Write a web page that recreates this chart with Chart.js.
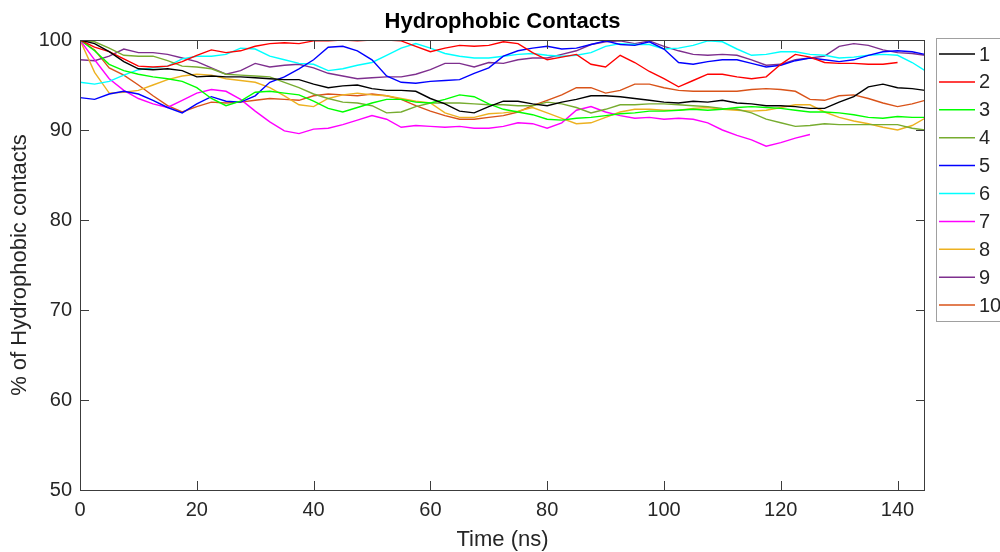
<!DOCTYPE html>
<html>
<head>
<meta charset="utf-8">
<title>Hydrophobic Contacts</title>
<script src="https://cdn.jsdelivr.net/npm/chart.js@4.4.1/dist/chart.umd.min.js"></script>
<style>
    html, body { margin: 0; padding: 0; background: #ffffff; }
    canvas { display: block; }
</style>
</head>
<body>
<canvas id="contactsChart" width="1000" height="552"></canvas>
<script>
// Время (нс) — общая ось для всех прогонов
const time = [0, 2.5, 5, 7.5, 10, 12.5, 15, 17.5, 20, 22.5, 25, 27.5, 30, 32.5, 35, 37.5, 40, 42.5, 45, 47.5,
    50, 52.5, 55, 57.5, 60, 62.5, 65, 67.5, 70, 72.5, 75, 77.5, 80, 82.5, 85, 87.5, 90, 92.5, 95, 97.5,
    100, 102.5, 105, 107.5, 110, 112.5, 115, 117.5, 120, 122.5, 125, 127.5, 130, 132.5, 135, 137.5, 140, 142.5, 144.7];

// % гидрофобных контактов по прогонам
const run1 = [100, 99.6, 98.7, 97.6, 96.8, 96.7, 96.8, 96.6, 95.9, 96.0, 95.9, 95.9, 95.8, 95.7, 95.6, 95.6, 95.1, 94.7, 94.9, 95.0,
    94.6, 94.4, 94.4, 94.3, 93.5, 92.9, 92.1, 91.9, 92.6, 93.2, 93.2, 92.9, 92.7, 93.1, 93.4, 93.8, 93.8, 93.7, 93.5, 93.3,
    93.1, 93.0, 93.2, 93.1, 93.3, 93.0, 92.9, 92.7, 92.7, 92.6, 92.4, 92.4, 93.1, 93.7, 94.8, 95.1, 94.7, 94.6, 94.4];
const run2 = [100, 99.2, 98.7, 97.9, 97.1, 97.0, 97.1, 97.6, 98.3, 98.9, 98.6, 98.8, 99.3, 99.6, 99.7, 99.6, 99.9, 99.9, 100, 99.9,
    100, 100, 99.9, 99.3, 98.7, 99.1, 99.4, 99.3, 99.4, 99.8, 99.6, 98.6, 97.8, 98.1, 98.4, 97.3, 97.0, 98.3, 97.5, 96.5,
    95.7, 94.8, 95.5, 96.2, 96.2, 95.9, 95.7, 95.9, 97.3, 98.4, 98.1, 97.5, 97.4, 97.4, 97.3, 97.3, 97.5, null, null];
const run3 = [100, 98.8, 97.3, 96.6, 96.2, 95.9, 95.7, 95.4, 94.7, 93.5, 92.7, 93.2, 94.2, 94.3, 94.1, 93.9, 93.2, 92.4, 92.0, 92.5,
    93.0, 93.4, 93.4, 93.1, 93.0, 93.4, 93.9, 93.7, 92.9, 92.3, 92.0, 91.7, 91.2, 91.1, 91.3, 91.4, 91.6, 91.8, 91.9, 92.1,
    92.1, 92.2, 92.3, 92.2, 92.3, 92.5, 92.6, 92.5, 92.4, 92.2, 92.0, 92.0, 91.9, 91.7, 91.4, 91.3, 91.5, 91.4, 91.4];
const run4 = [100, 99.8, 99.1, 98.3, 98.2, 98.2, 97.7, 97.1, 97.0, 96.8, 96.2, 96.1, 96.0, 95.9, 95.3, 94.7, 94.0, 93.5, 93.1, 93.0,
    92.7, 91.9, 92.0, 92.6, 93.0, 93.0, 93.0, 92.9, 92.8, 92.8, 92.7, 92.7, 93.1, 92.9, 92.5, 91.9, 92.3, 92.8, 92.8, 92.9,
    92.9, 92.8, 92.7, 92.6, 92.4, 92.3, 91.9, 91.2, 90.8, 90.4, 90.5, 90.7, 90.6, 90.6, 90.6, 90.6, 90.6, 90.2, 90.0];
const run5 = [93.6, 93.4, 94.0, 94.3, 94.0, 93.3, 92.5, 91.9, 92.9, 93.7, 93.2, 93.1, 93.8, 95.3, 95.9, 96.8, 97.8, 99.2, 99.3, 98.8,
    97.8, 96.0, 95.3, 95.2, 95.4, 95.5, 95.6, 96.3, 96.9, 98.2, 98.8, 99.1, 99.3, 99.0, 99.1, 99.5, 99.9, 99.5, 99.4, 99.8,
    99.0, 97.5, 97.3, 97.6, 97.8, 97.8, 97.4, 97.0, 97.2, 97.7, 98.0, 97.8, 97.6, 97.8, 98.3, 98.7, 98.8, 98.7, 98.4];
const run6 = [95.3, 95.1, 95.4, 96.1, 96.7, 96.9, 97.1, 97.9, 98.2, 98.2, 98.4, 99.1, 99.0, 98.2, 97.8, 97.4, 97.3, 96.6, 96.8, 97.2,
    97.5, 98.3, 99.1, 99.6, 99.1, 98.5, 98.2, 98.0, 98.0, 98.2, 98.4, 98.5, 98.3, 98.2, 98.3, 98.6, 99.3, 99.6, 99.5, 99.5,
    99.0, 99.1, 99.4, 99.9, 99.8, 99.0, 98.3, 98.4, 98.7, 98.7, 98.4, 98.3, 98.0, 98.1, 98.3, 98.4, 98.3, 97.5, 96.6];
const run7 = [100, 97.8, 95.7, 94.4, 93.5, 92.9, 92.5, 93.3, 94.1, 94.5, 94.3, 93.4, 92.1, 90.9, 89.9, 89.6, 90.1, 90.2, 90.6, 91.1,
    91.6, 91.2, 90.3, 90.5, 90.4, 90.3, 90.4, 90.2, 90.2, 90.4, 90.8, 90.7, 90.2, 90.8, 92.2, 92.6, 92.0, 91.6, 91.3, 91.4,
    91.2, 91.3, 91.2, 90.8, 90.0, 89.4, 88.9, 88.2, 88.6, 89.1, 89.5, null, null, null, null, null, null, null, null];
const run8 = [100, 96.4, 94.1, 94.2, 94.4, 95.0, 95.6, 96.0, 96.2, 96.1, 95.7, 95.5, 95.3, 94.7, 93.8, 92.8, 92.6, 93.5, 93.9, 94.1,
    93.9, 93.8, 93.5, 93.2, 93.0, 91.9, 91.4, 91.4, 91.8, 91.9, 92.1, 92.5, 91.9, 91.3, 90.7, 90.8, 91.4, 92.0, 92.3, 92.3,
    92.2, 92.2, 92.4, 92.5, 92.3, 92.2, 92.1, 92.2, 92.5, 92.8, 92.8, 92.0, 91.4, 91.0, 90.7, 90.3, 90.0, 90.5, 91.3];
const run9 = [97.8, 97.7, 98.2, 99.0, 98.6, 98.6, 98.4, 98.0, 97.6, 96.9, 96.2, 96.6, 97.4, 97.0, 97.2, 97.3, 96.9, 96.3, 96.0, 95.7,
    95.8, 95.9, 95.9, 96.2, 96.7, 97.4, 97.4, 97.0, 97.5, 97.4, 97.8, 98.0, 98.0, 98.4, 98.8, 99.5, 99.8, 99.9, 99.6, 99.9,
    99.3, 98.8, 98.4, 98.3, 98.4, 98.3, 97.8, 97.2, 97.3, 97.8, 98.0, 98.2, 99.3, 99.6, 99.4, 98.9, 98.6, 98.5, 98.3];
const run10 = [100, 98.9, 96.9, 96.1, 95.0, 93.8, 92.7, 92.0, 92.6, 93.1, 93.0, 93.1, 93.3, 93.5, 93.4, 93.3, 93.8, 94.0, 93.9, 93.8,
    94.0, 93.8, 93.4, 92.7, 92.1, 91.6, 91.2, 91.2, 91.4, 91.6, 92.0, 92.7, 93.3, 93.9, 94.7, 94.7, 94.1, 94.4, 95.1, 95.1,
    94.7, 94.4, 94.3, 94.3, 94.3, 94.3, 94.5, 94.6, 94.5, 94.3, 93.4, 93.3, 93.8, 93.9, 93.5, 93.0, 92.6, 92.9, 93.3];

const runLabels = ['1', '2', '3', '4', '5', '6', '7', '8', '9', '10'];
const runColors = ['#000000', '#ff0000', '#00ff00', '#77ac30', '#0000ff', '#00ffff', '#ff00ff', '#edb120', '#7e2f8e', '#d95319'];
const xTicks = [0, 20, 40, 60, 80, 100, 120, 140];
const yTicks = [50, 60, 70, 80, 90, 100];

const FONT = "'Liberation Sans', Arial, Helvetica, sans-serif";
const TEXT_COLOR = '#262626';
const AXIS_COLOR = '#3c3c3c';

// Рамка осей и внутренние засечки как в MATLAB
const boxPlugin = {
    id: 'matlabBox',
    afterDatasetsDraw(chart) {
        const ctx = chart.ctx;
        const area = chart.chartArea;
        const xs = chart.scales.x;
        const ys = chart.scales.y;
        const len = 9;
        ctx.save();
        ctx.strokeStyle = AXIS_COLOR;
        ctx.lineWidth = 1;
        ctx.strokeRect(Math.round(area.left) + 0.5, Math.round(area.top) + 0.5,
            Math.round(area.right - area.left) - 1, Math.round(area.bottom - area.top));
        ctx.beginPath();
        xTicks.forEach(v => {
            const px = Math.round(xs.getPixelForValue(v)) + 0.5;
            ctx.moveTo(px, area.bottom);
            ctx.lineTo(px, area.bottom - len);
            ctx.moveTo(px, area.top);
            ctx.lineTo(px, area.top + len);
        });
        yTicks.forEach(v => {
            const py = Math.round(ys.getPixelForValue(v)) + 0.5;
            ctx.moveTo(area.left, py);
            ctx.lineTo(area.left + len, py);
            ctx.moveTo(area.right, py);
            ctx.lineTo(area.right - len, py);
        });
        ctx.stroke();
        ctx.restore();
    },
    afterDraw(chart) {
        const ctx = chart.ctx;
        const area = chart.chartArea;
        ctx.save();
        // Заголовок
        ctx.fillStyle = '#000000';
        ctx.font = 'bold 22px ' + FONT;
        ctx.textAlign = 'center';
        ctx.textBaseline = 'middle';
        ctx.fillText('Hydrophobic Contacts', (area.left + area.right) / 2, 22);

        // Легенда справа (обрезана краем окна)
        const lx = 936, ly = 38, rowH = 27.9;
        ctx.fillStyle = '#ffffff';
        ctx.fillRect(lx, ly, 90, 283);
        ctx.strokeStyle = '#a0a0a0';
        ctx.lineWidth = 1;
        ctx.strokeRect(lx + 0.5, ly + 0.5, 90, 283);
        ctx.font = '20px ' + FONT;
        ctx.textAlign = 'left';
        chart.data.datasets.forEach((ds, i) => {
            const y = ly + 16 + i * rowH;
            ctx.strokeStyle = ds.borderColor;
            ctx.lineWidth = 1.5;
            ctx.beginPath();
            ctx.moveTo(939, y);
            ctx.lineTo(975, y);
            ctx.stroke();
            ctx.fillStyle = TEXT_COLOR;
            ctx.fillText(ds.label, 979, y + 1);
        });
        ctx.restore();
    }
};

function buildChart() {
    const ctx = document.getElementById('contactsChart').getContext('2d');
    const runs = [run1, run2, run3, run4, run5, run6, run7, run8, run9, run10];

    const datasets = runs.map((values, i) => ({
        label: runLabels[i],
        data: values.map((v, j) => ({ x: time[j], y: v })),
        borderColor: runColors[i],
        backgroundColor: runColors[i],
        borderWidth: 1.4,
        pointRadius: 0,
        tension: 0,
        fill: false,
        spanGaps: false
    }));

    new Chart(ctx, {
        type: 'line',
        data: { datasets: datasets },
        options: {
            responsive: false,
            animation: false,
            devicePixelRatio: 1,
            layout: { padding: { top: 40, right: 75, left: 0, bottom: 0 } },
            plugins: {
                legend: { display: false },
                tooltip: { enabled: false },
                title: { display: false }
            },
            scales: {
                x: {
                    type: 'linear',
                    min: 0,
                    max: 144.7,
                    afterFit: scale => { scale.height = 62; },
                    afterBuildTicks: scale => { scale.ticks = xTicks.map(v => ({ value: v })); },
                    grid: { display: false, drawTicks: false },
                    border: { display: false },
                    ticks: {
                        color: TEXT_COLOR,
                        padding: 8,
                        maxRotation: 0,
                        font: { family: FONT, size: 20 }
                    },
                    title: {
                        display: true,
                        text: 'Time (ns)',
                        color: TEXT_COLOR,
                        padding: { top: 0, bottom: -1 },
                        font: { family: FONT, size: 22 }
                    }
                },
                y: {
                    min: 50,
                    max: 100,
                    afterFit: scale => { scale.width = 80; },
                    afterBuildTicks: scale => { scale.ticks = yTicks.map(v => ({ value: v })); },
                    grid: { display: false, drawTicks: false },
                    border: { display: false },
                    ticks: {
                        color: TEXT_COLOR,
                        padding: 8,
                        font: { family: FONT, size: 20 }
                    },
                    title: {
                        display: true,
                        text: '% of Hydrophobic contacts',
                        color: TEXT_COLOR,
                        padding: { top: 7, bottom: 0 },
                        font: { family: FONT, size: 22 }
                    }
                }
            }
        },
        plugins: [boxPlugin]
    });
}

buildChart();
</script>
</body>
</html>
